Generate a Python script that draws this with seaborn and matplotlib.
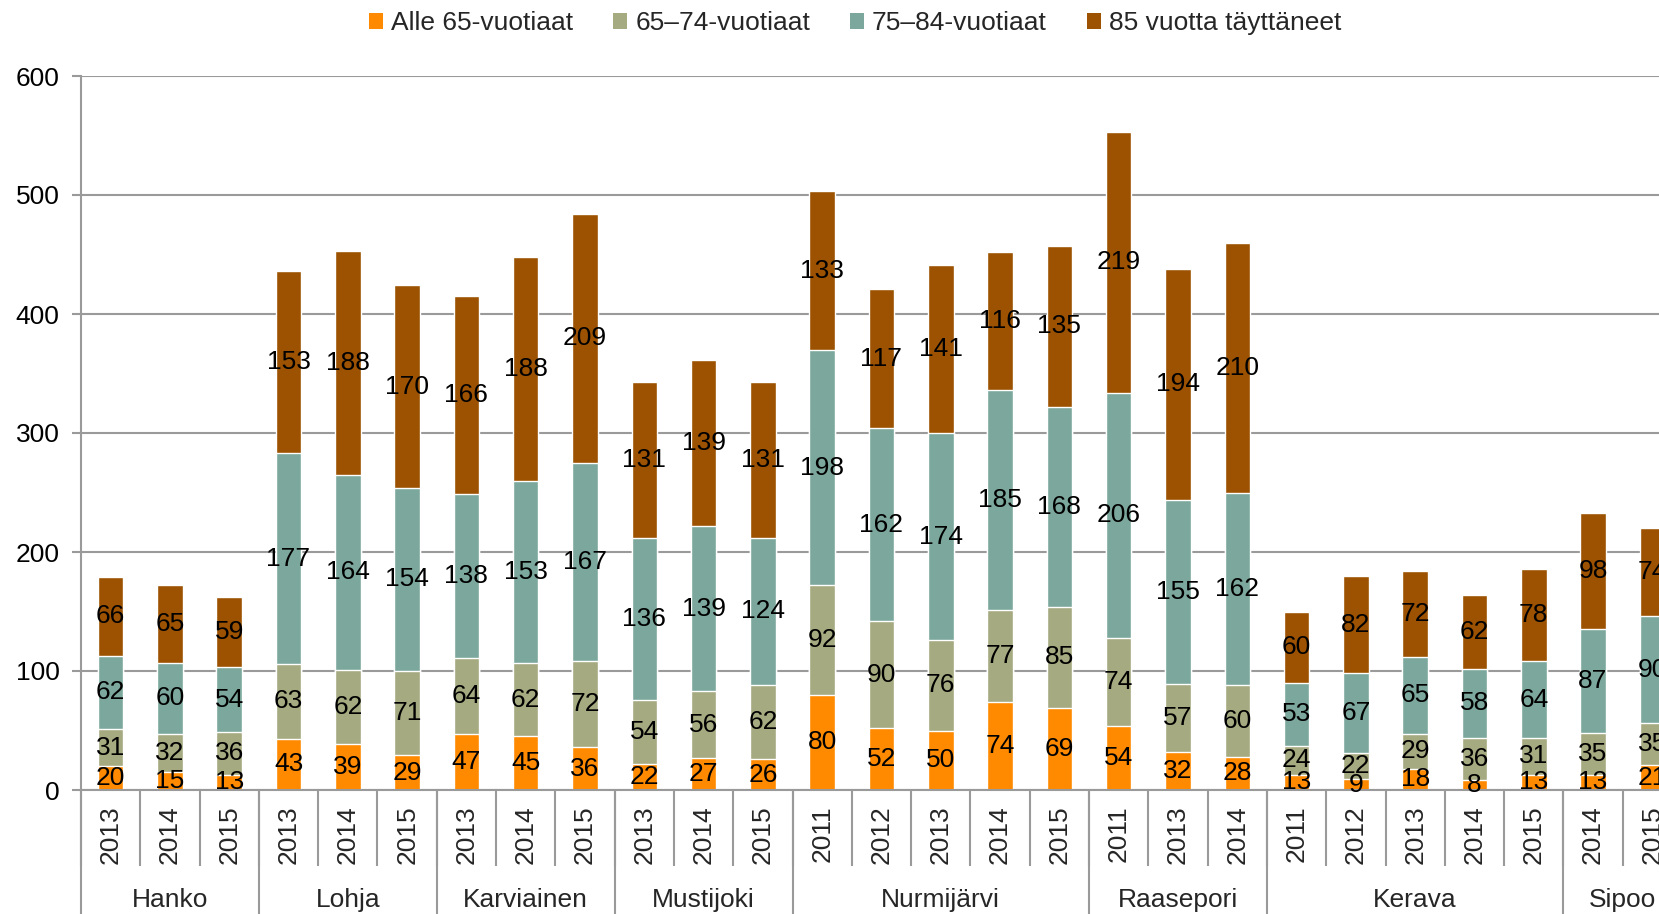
import pandas as pd
import matplotlib
matplotlib.use("Agg")
import matplotlib.pyplot as plt
import matplotlib.transforms as mtransforms
from matplotlib.patches import Patch
import seaborn as sns

sns.set_style('white')
plt.rcParams['font.family'] = ['Liberation Sans', 'DejaVu Sans']

# data
kunnat = (['Hanko'] * 3 + ['Lohja'] * 3 + ['Karviainen'] * 3 + ['Mustijoki'] * 3
          + ['Nurmijärvi'] * 5 + ['Raasepori'] * 3 + ['Kerava'] * 5 + ['Sipoo'] * 2)
vuodet = ['2013', '2014', '2015', '2013', '2014', '2015', '2013', '2014', '2015',
          '2013', '2014', '2015', '2011', '2012', '2013', '2014', '2015',
          '2011', '2013', '2014', '2011', '2012', '2013', '2014', '2015',
          '2014', '2015']
alle65 = [20, 15, 13, 43, 39, 29, 47, 45, 36, 22, 27, 26, 80, 52, 50, 74, 69,
          54, 32, 28, 13, 9, 18, 8, 13, 13, 21]
v65_74 = [31, 32, 36, 63, 62, 71, 64, 62, 72, 54, 56, 62, 92, 90, 76, 77, 85,
          74, 57, 60, 24, 22, 29, 36, 31, 35, 35]
v75_84 = [62, 60, 54, 177, 164, 154, 138, 153, 167, 136, 139, 124, 198, 162, 174, 185, 168,
          206, 155, 162, 53, 67, 65, 58, 64, 87, 90]
v85 = [66, 65, 59, 153, 188, 170, 166, 188, 209, 131, 139, 131, 133, 117, 141, 116, 135,
       219, 194, 210, 60, 82, 72, 62, 78, 98, 74]

sarjat = ['Alle 65-vuotiaat', '65–74-vuotiaat', '75–84-vuotiaat', '85 vuotta täyttäneet']
varit = ['#FF8A00', '#A6AA80', '#7CA79C', '#9C5200']

df = pd.DataFrame({'kunta': kunnat, 'vuosi': vuodet, sarjat[0]: alle65,
                   sarjat[1]: v65_74, sarjat[2]: v75_84, sarjat[3]: v85})
df['key'] = df['kunta'] + ' ' + df['vuosi']
cum = df[sarjat].cumsum(axis=1)

grey = '#9a9a9a'
fig = plt.figure(figsize=(16.59, 9.14), dpi=100)
ax = fig.add_axes([81 / 1659, 124 / 914, 1601 / 1659, 714 / 914])

# stacked bars: draw cumulative totals from the top series down
for i in range(3, -1, -1):
    sns.barplot(x=df['key'], y=cum[sarjat[i]], color=varit[i], width=0.43,
                saturation=1, errorbar=None, order=list(df['key']), ax=ax)

for j in range(len(df)):
    bottom = 0
    for s in sarjat:
        v = df[s].iloc[j]
        ax.text(j, bottom + v / 2, str(v), ha='center', va='center',
                fontsize=19, color='black', clip_on=False)
        bottom += v

ax.set_ylim(0, 600)
ax.set_xlim(-0.5, len(df) - 0.5)
ax.set_yticks(range(0, 601, 100))
ax.yaxis.grid(True, color=grey, lw=1.5)
ax.set_axisbelow(True)
ax.set_xlabel('')
ax.set_ylabel('')
for sp in ['top', 'right']:
    ax.spines[sp].set_visible(False)
for sp in ['left', 'bottom']:
    ax.spines[sp].set_color(grey)
    ax.spines[sp].set_linewidth(1.5)

ax.tick_params(axis='y', left=True, length=6.5, width=1.5, color=grey, pad=9,
               labelsize=19, labelcolor='black')
ax.set_xticks(range(len(df)), labels=vuodet, rotation=90)
ax.tick_params(axis='x', which='major', length=0, pad=11, labelsize=19)
ax.set_xticks([k - 0.5 for k in range(len(df) + 1)], minor=True)
ax.tick_params(axis='x', which='minor', bottom=True, length=55, width=1.5,
               color=grey)

# municipality level of the axis
trans = mtransforms.blended_transform_factory(ax.transData, ax.transAxes)
start = 0
groups = []
for k in range(1, len(df) + 1):
    if k == len(df) or kunnat[k] != kunnat[start]:
        groups.append((kunnat[start], start, k - 1))
        start = k
for name, a, b in groups:
    ax.plot([a - 0.5, a - 0.5], [0, -0.25], transform=trans, clip_on=False,
            color=grey, lw=1.5)
    ax.text((a + b) / 2, -0.154, name, transform=trans, ha='center',
            va='center', fontsize=19)
ax.plot([len(df) - 0.5] * 2, [0, -0.25], transform=trans, clip_on=False,
        color=grey, lw=1.5)

handles = [Patch(facecolor=c, edgecolor='none') for c in varit]
fig.legend(handles, sarjat, loc='center', bbox_to_anchor=(855 / 1659, 1 - 23 / 914),
           ncol=4, frameon=False, fontsize=19, handlelength=0.55,
           handleheight=0.55, handletextpad=0.3, columnspacing=1.5)

fig.savefig('out.png', dpi=100)
